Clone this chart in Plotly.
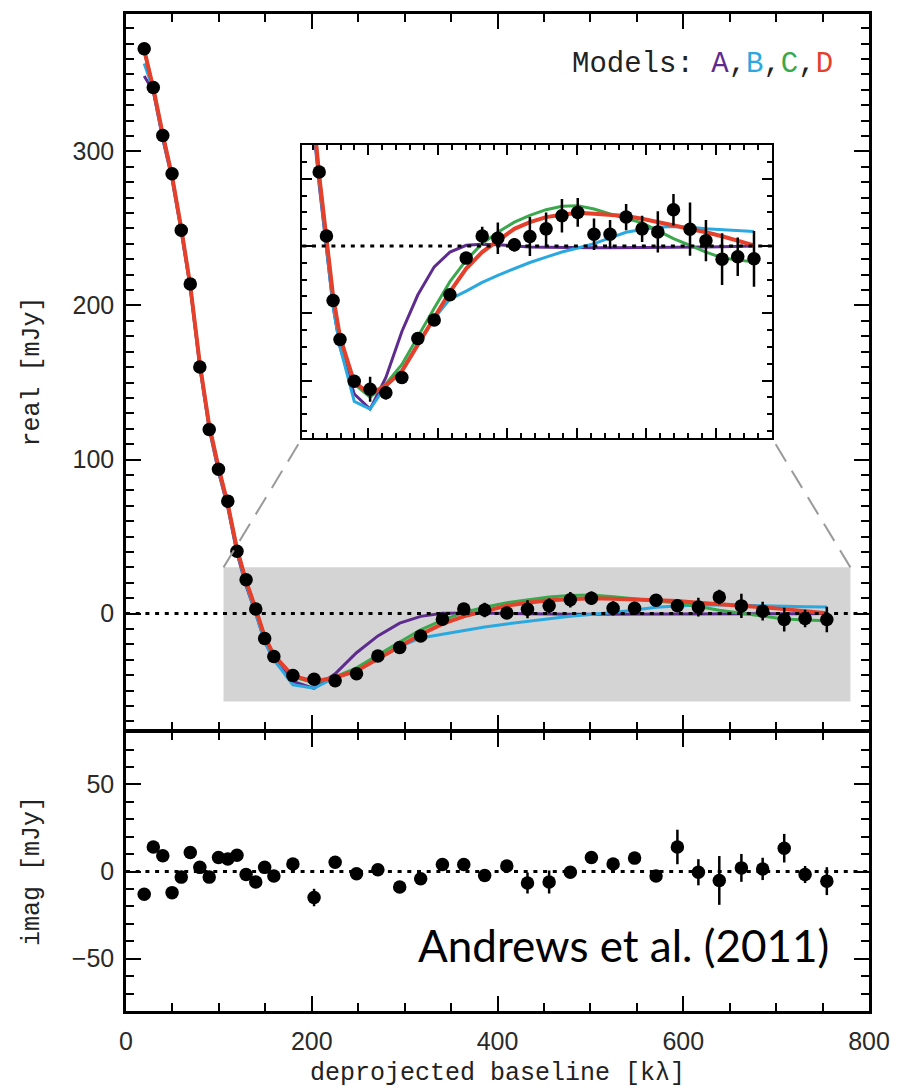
import plotly.graph_objects as go

# ---------------- data ----------------
U = [19.6, 29.4, 39.6, 49.6, 59.5, 69.2, 79.5, 89.6, 99.6, 109.6, 119.5, 129.3,
     139.7, 149.3, 159.2, 179.7, 202.5, 225.2, 248.2, 271.2, 294.7, 317.3, 340.7,
     363.7, 386.2, 410.0, 432.3, 455.6, 478.4, 501.1, 524.5, 547.6, 570.7, 593.7,
     616.3, 638.8, 662.6, 685.5, 708.7, 731.2, 754.6]

REAL = [366.6, 341.5, 310.3, 285.5, 248.8, 213.9, 160.0, 119.5, 93.7, 73.0, 40.5, 22.0,
        3.0, -16.2, -27.8, -40.2, -42.6, -43.6, -39.1, -27.5, -22.0, -14.5, -3.6,
        3.0, 2.3, 0.4, 2.8, 5.1, 9.0, 10.0, 3.5, 3.5, 8.6, 5.1,
        4.2, 10.8, 5.0, 1.6, -3.9, -3.2, -3.8]
REAL_ERR = [1, 1, 1, 1, 1, 1, 1, 1, 1, 1, 1, 1,
            1, 1, 1, 1.5, 3.7, 2.0, 1.5, 1.5, 1.5, 1.5, 1.5,
            2.7, 4.7, 2.0, 5.8, 4.9, 5.0, 4.3, 4.7, 4.2, 3.9, 3.9,
            6.1, 4.7, 7.9, 6.1, 7.7, 5.7, 8.3]

IMAG = [-13.0, 14.1, 9.1, -12.1, -3.2, 10.9, 2.4, -3.2, 8.1, 7.2, 9.4, -1.7,
        -6.0, 2.4, -2.5, 4.3, -14.9, 5.3, -1.3, 1.0, -8.9, -4.1, 4.0,
        4.0, -2.3, 3.2, -6.6, -6.0, -0.4, 8.1, 4.3, 7.7, -2.6, 14.1,
        -0.4, -5.1, 2.1, 1.5, 13.4, -1.7, -5.5]
IMAG_ERR = [1.5, 1.5, 1.5, 1.5, 1.5, 1.5, 1.5, 1.5, 1.5, 1.5, 1.5, 1.5,
            1.5, 1.5, 1.5, 2.0, 5.0, 2.5, 2.5, 2.5, 2.5, 2.5, 2.5,
            2.5, 2.5, 2.5, 6.0, 6.6, 2.5, 2.5, 2.5, 2.5, 2.5, 9.9,
            7.5, 14.0, 8.0, 6.4, 8.2, 4.9, 8.0]

MODEL_A = [349, 339, 308, 282, 248, 212, 160, 120, 92, 69, 39, 18,
           0, -18, -30, -44, -48.5, -39.1, -25.4, -14.5, -6.2, -1.8, 0.2,
           0.5, 0.4, 0.0, -0.3, -0.4, -0.5, -0.5, -0.5, -0.5, -0.5, -0.5,
           -0.5, -0.5, -0.4, -0.3, -0.2, -0.1, 0.0]
MODEL_B = [357, 340, 309, 283, 249, 212, 161, 121, 93, 70, 40, 19,
           0, -18, -30, -46.2, -48.5, -41.5, -37.0, -29.0, -21.5, -15.8, -13.4,
           -10.8, -8.7, -6.7, -4.9, -3.3, -1.8, -0.6, 0.7, 2.4, 4.1, 4.9,
           5.6, 5.8, 5.6, 5.1, 4.8, 4.5, 4.3]
MODEL_C = [365, 341, 311, 284, 250, 213, 162, 122, 95, 71, 42, 21,
           3, -15, -27.5, -41, -45, -41, -35.2, -26.8, -18.5, -10.6, -4.2,
           0.7, 4.1, 7.1, 9.1, 10.8, 11.8, 12.0, 11.0, 9.5, 8.2, 6.9,
           4.6, 2.2, 0.2, -1.8, -3.5, -4.2, -4.7]
MODEL_D = [366, 341, 311, 284, 250, 213, 162, 122, 95, 71, 42, 21,
           3, -15, -27, -40.5, -44, -41.5, -37.2, -29.3, -21.4, -13.6, -6.7,
           -1.8, 1.6, 5.1, 7.1, 8.6, 9.3, 9.9, 9.6, 9.3, 8.9, 8.1,
           7.1, 6.3, 5.3, 4.1, 2.9, 1.6, 0.2]

MODEL_NAMES = ["A", "B", "C", "D"]
MODEL_COLORS = ["#5e2b8f", "#2aa9e0", "#3aa84c", "#e4402b"]
MODEL_WIDTHS = [3, 3, 3, 4]
MODELS = [MODEL_A, MODEL_B, MODEL_C, MODEL_D]

X_RANGE = [0, 800]
Y_TOP_RANGE = [-75.3, 389.2]
Y_BOT_RANGE = [-80, 80]
ZOOM_X = [105, 780]
ZOOM_Y = [-57, 30]

# ---------------- layout geometry ----------------
W, H = 901, 1090
LW = 2.5
ML, MR, MT, MB = 126, 27, 11, 79
PW, PH = W - ML - MR, H - MT - MB
SPLIT_PX = 730
top_bottom = (H - MB - (SPLIT_PX - LW / 2)) / PH
bot_top = (H - MB - (SPLIT_PX + LW / 2)) / PH
INSET_PX = dict(x0=303.5, x1=776.0, y0=142.5, y1=436.0)


def px_to_paper_x(px):
    return (px - ML) / PW


def px_to_paper_y(py):
    return (H - MB - py) / PH


inset_xdom = [px_to_paper_x(INSET_PX["x0"]), px_to_paper_x(INSET_PX["x1"])]
inset_ydom = [px_to_paper_y(INSET_PX["y1"]), px_to_paper_y(INSET_PX["y0"])]

fig = go.Figure()

for axes in [("x", "y"), ("x3", "y3")]:
    for name, vals, col, lw in zip(MODEL_NAMES, MODELS, MODEL_COLORS, MODEL_WIDTHS):
        fig.add_trace(go.Scatter(x=U, y=vals, mode="lines", name=name,
                                 line=dict(color=col, width=lw),
                                 xaxis=axes[0], yaxis=axes[1], showlegend=False))
    fig.add_trace(go.Scatter(x=U, y=REAL, mode="markers",
                             marker=dict(color="black", size=13.5),
                             error_y=dict(type="data", array=REAL_ERR, visible=True,
                                          color="black", thickness=2.5, width=0),
                             xaxis=axes[0], yaxis=axes[1], showlegend=False))

fig.add_trace(go.Scatter(x=U, y=IMAG, mode="markers",
                         marker=dict(color="black", size=13.5),
                         error_y=dict(type="data", array=IMAG_ERR, visible=True,
                                      color="black", thickness=2.5, width=0),
                         xaxis="x2", yaxis="y2", showlegend=False))

TICKFONT = dict(family="Liberation Sans", size=25, color="#2a2a2a")
MINOR = dict(ticklen=8, tickwidth=2, tickcolor="black", ticks="inside")


def axis(**kw):
    base = dict(showline=True, linewidth=LW, linecolor="black", mirror="allticks",
                ticks="inside", ticklen=15, tickwidth=2, tickcolor="black",
                showgrid=False, zeroline=False, tickfont=TICKFONT)
    base.update(kw)
    return base


fig.update_layout(
    width=W, height=H,
    margin=dict(l=ML, r=MR, t=MT, b=MB),
    paper_bgcolor="white", plot_bgcolor="white",
    showlegend=False,
    xaxis=axis(domain=[0, 1], range=X_RANGE, anchor="y", showticklabels=False,
               dtick=200, tick0=0, minor=dict(dtick=50, **MINOR)),
    yaxis=axis(domain=[top_bottom, 1], range=Y_TOP_RANGE, anchor="x",
               tickvals=[0, 100, 200, 300], ticklabelstandoff=4,
               minor=dict(dtick=10, **MINOR)),
    xaxis2=axis(domain=[0, 1], range=X_RANGE, anchor="y2", dtick=200, tick0=0,
                ticklabelstandoff=6, minor=dict(dtick=50, **MINOR)),
    yaxis2=axis(domain=[0, bot_top], range=Y_BOT_RANGE, anchor="x2",
                tickvals=[-50, 0, 50], ticklabelstandoff=4,
                minor=dict(dtick=10, **MINOR)),
    xaxis3=axis(domain=inset_xdom, range=ZOOM_X, anchor="y3", showticklabels=False,
                linewidth=2, dtick=100, tick0=0, ticklen=10,
                minor=dict(dtick=20, ticklen=5, tickwidth=1.5, tickcolor="black", ticks="inside")),
    yaxis3=axis(domain=inset_ydom, range=ZOOM_Y, anchor="x3", showticklabels=False,
                linewidth=2, dtick=20, tick0=0, ticklen=10,
                minor=dict(dtick=5, ticklen=5, tickwidth=1.5, tickcolor="black", ticks="inside")),
)

# gray zoom region
fig.add_shape(type="rect", xref="x", yref="y", x0=ZOOM_X[0], x1=ZOOM_X[1],
              y0=ZOOM_Y[0], y1=ZOOM_Y[1], fillcolor="#d4d4d4", line=dict(width=0),
              layer="below")

# dotted zero lines
DOT = dict(color="black", width=3, dash="4px,5.7px")
fig.add_shape(type="line", xref="x domain", yref="y", x0=0, x1=1, y0=0, y1=0, line=DOT)
fig.add_shape(type="line", xref="x2 domain", yref="y2", x0=0, x1=1, y0=0, y1=0, line=DOT)
fig.add_shape(type="line", xref="x3 domain", yref="y3", x0=0, x1=1, y0=0, y1=0, line=DOT)


def top_paper(xv, yv):
    xp = (xv - X_RANGE[0]) / (X_RANGE[1] - X_RANGE[0])
    yp = top_bottom + (yv - Y_TOP_RANGE[0]) / (Y_TOP_RANGE[1] - Y_TOP_RANGE[0]) * (1 - top_bottom)
    return xp, yp


CONN = dict(color="#9a9a9a", width=2, dash="20px,11px")
for zx, ix in [(ZOOM_X[0], inset_xdom[0]), (ZOOM_X[1], inset_xdom[1])]:
    xp, yp = top_paper(zx, ZOOM_Y[1])
    fig.add_shape(type="line", xref="paper", yref="paper", x0=xp, y0=yp,
                  x1=ix, y1=inset_ydom[0], line=CONN)

# text
label = "Models: " + ",".join(
    f'<span style="color:{c}">{n}</span>' for n, c in zip(MODEL_NAMES, MODEL_COLORS))
fig.add_annotation(text=label, xref="paper", yref="paper",
                   x=px_to_paper_x(840), y=px_to_paper_y(62), xanchor="right", yanchor="middle",
                   showarrow=False, font=dict(family="Liberation Mono", size=29, color="#222"))
fig.add_annotation(text="Andrews et al. (2011)", xref="paper", yref="paper",
                   x=px_to_paper_x(836), y=px_to_paper_y(945), xanchor="right", yanchor="middle",
                   showarrow=False, font=dict(family="Lato", size=44, color="black"))
TITLEFONT = dict(family="Liberation Mono", size=25, color="#222")
fig.add_annotation(text="real [mJy]", xref="paper", yref="paper", textangle=-90,
                   x=px_to_paper_x(32), y=px_to_paper_y(370), xanchor="center", yanchor="middle",
                   showarrow=False, font=TITLEFONT)
fig.add_annotation(text="imag [mJy]", xref="paper", yref="paper", textangle=-90,
                   x=px_to_paper_x(32), y=px_to_paper_y(871), xanchor="center", yanchor="middle",
                   showarrow=False, font=TITLEFONT)
fig.add_annotation(text="deprojected baseline [kλ]", xref="paper", yref="paper",
                   x=px_to_paper_x(500), y=px_to_paper_y(1074), xanchor="center", yanchor="middle",
                   showarrow=False, font=TITLEFONT)

fig.write_html("out.html")
